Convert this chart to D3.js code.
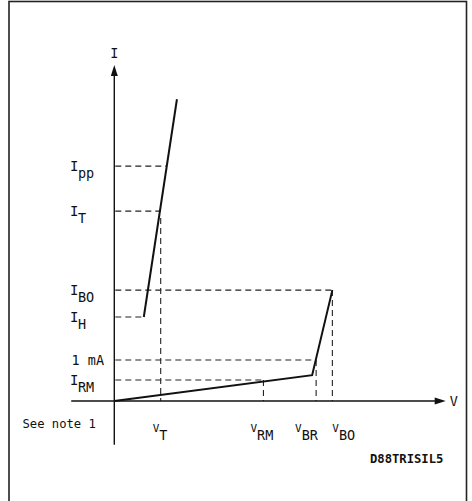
<!DOCTYPE html>
<html>
<head>
<meta charset="utf-8">
<script src="https://cdn.jsdelivr.net/npm/d3@7"></script>
<style>
  html, body { margin: 0; padding: 0; background: #fff; }
  text { font-family: "DejaVu Sans Mono", monospace; fill: #111; }
</style>
</head>
<body>
<div id="chart"></div>
<script>
// schematic units: V and I both 0..100 along the drawn axes
const currentLevels = [
  { name: "pp", value: 69.9 },
  { name: "T", value: 56.5 },
  { name: "BO", value: 33 },
  { name: "H", value: 25 },
  { name: "1 mA", value: 12.2 },
  { name: "RM", value: 6.25 }
];
const voltageLevels = [
  { name: "T", value: 14 },
  { name: "RM", value: 45 },
  { name: "BR", value: 60.9 },
  { name: "BO", value: 65.8 }
];
// off-state branch and on-state branch of the characteristic
const offState = [[0, 0], [59.7, 7.7], [65.8, 33]];
const onState = [[8.9, 25], [18.9, 89.8]];

// which current level each dashed horizontal runs to
const dashH = [
  { i: "pp", toV: null },
  { i: "T", toV: "T" },
  { i: "BO", toV: "BO" },
  { i: "H", toV: "H" },
  { i: "1 mA", toV: "BR" },
  { i: "RM", toV: "RM" }
];
const dashV = [
  { v: "T", fromI: "T" },
  { v: "RM", fromI: "RM" },
  { v: "BR", fromI: "1 mA" },
  { v: "BO", fromI: "BO" }
];

const W = 472, H = 501;
const svg = d3.select("#chart").append("svg")
  .attr("width", W).attr("height", H);

const x = d3.scaleLinear().domain([0, 100]).range([114.3, 445.7]);
const y = d3.scaleLinear().domain([0, 100]).range([401, 65]);

const iVal = n => currentLevels.find(d => d.name === n).value;
const vVal = n => voltageLevels.find(d => d.name === n).value;
// V on the on-state line for a given I
const onV = i => {
  const [[x0, y0], [x1, y1]] = onState;
  return x0 + (i - y0) * (x1 - x0) / (y1 - y0);
};

// frame
svg.append("rect")
  .attr("x", 9).attr("y", 1.5).attr("width", 457.5).attr("height", 520)
  .attr("fill", "none").attr("stroke", "#222").attr("stroke-width", 1.6);

// dashed guides
const g = svg.append("g")
  .attr("stroke", "#222").attr("stroke-width", 1.1)
  .attr("stroke-dasharray", "6,4").attr("fill", "none");

dashH.forEach(d => {
  const iv = iVal(d.i);
  let xe;
  if (d.toV === null) xe = onV(iv);
  else if (d.toV === "H") xe = onState[0][0];
  else xe = vVal(d.toV);
  g.append("line")
    .attr("x1", x(0) + 1).attr("x2", x(xe))
    .attr("y1", y(iv)).attr("y2", y(iv));
});
dashV.forEach(d => {
  const vv = vVal(d.v);
  const top = d.v === "T" ? iVal(d.fromI) - 2 : iVal(d.fromI);
  g.append("line")
    .attr("x1", x(vv)).attr("x2", x(vv))
    .attr("y1", y(top)).attr("y2", y(0));
});

// axes
svg.append("line")
  .attr("x1", x(-13)).attr("x2", x(97))
  .attr("y1", y(0)).attr("y2", y(0))
  .attr("stroke", "#111").attr("stroke-width", 1.4);
svg.append("line")
  .attr("x1", x(0)).attr("x2", x(0))
  .attr("y1", y(-13)).attr("y2", y(97))
  .attr("stroke", "#111").attr("stroke-width", 1.4);
// arrow heads
svg.append("path")
  .attr("d", `M${x(100)},${y(0)} L${x(100) - 11},${y(0) - 3.5} L${x(100) - 11},${y(0) + 3.5} Z`)
  .attr("fill", "#111");
svg.append("path")
  .attr("d", `M${x(0)},${y(100)} L${x(0) - 3.5},${y(100) + 11} L${x(0) + 3.5},${y(100) + 11} Z`)
  .attr("fill", "#111");

svg.append("text").attr("x", x(0)).attr("y", y(100) - 7)
  .attr("text-anchor", "middle").style("font-size", "13.5px").text("I");
svg.append("text").attr("x", x(100) + 4).attr("y", y(0) + 5)
  .style("font-size", "13.5px").text("V");

// characteristic
const line = d3.line().x(d => x(d[0])).y(d => y(d[1]));
svg.append("path").datum(offState).attr("d", line)
  .attr("fill", "none").attr("stroke", "#111").attr("stroke-width", 2);
svg.append("path").datum(onState).attr("d", line)
  .attr("fill", "none").attr("stroke", "#111").attr("stroke-width", 2);

// current labels
currentLevels.forEach(d => {
  const t = svg.append("text").attr("x", 70).attr("y", y(d.value) + 5)
    .style("font-size", "14px");
  if (d.name === "1 mA") {
    t.attr("x", 71.5).style("font-size", "13.5px").text("1 mA");
  } else {
    t.text("I");
    t.append("tspan").attr("dy", 7).attr("dx", -0.5).style("font-size", "13.5px").text(d.name);
  }
});

// voltage labels: the reference sets each one by hand relative to its guide
const vLabelShift = { T: -8, RM: -13, BR: -21, BO: 0 };
voltageLevels.forEach(d => {
  const t = svg.append("text").attr("x", x(d.value) + vLabelShift[d.name]).attr("y", 432)
    .style("font-size", "11px").text("V");
  t.append("tspan").attr("dy", 8).style("font-size", "13.5px").text(d.name);
});

svg.append("text").attr("x", 22.5).attr("y", 428)
  .style("font-size", "12.2px").text("See note 1");

svg.append("text").attr("x", 370).attr("y", 463)
  .style("font-size", "12.2px").style("font-weight", "bold")
  .text("D88TRISIL5");
</script>
</body>
</html>
